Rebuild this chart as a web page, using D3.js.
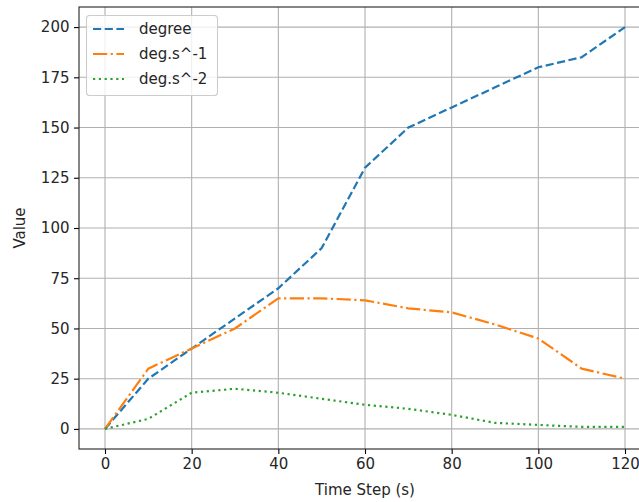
<!DOCTYPE html>
<html>
<head>
<meta charset="utf-8">
<script src="https://cdn.jsdelivr.net/npm/d3@7"></script>
<style>
  body { margin: 0; background: #fff; }
  svg { display: block; font-family: "DejaVu Sans", sans-serif; }
</style>
</head>
<body>
<svg width="639" height="502"></svg>
<script>
var width = 639;
var height = 502;

// data
var timeSteps = [0, 10, 20, 30, 40, 50, 60, 70, 80, 90, 100, 110, 120];
var degree = [0, 25, 40, 55, 70, 90, 130, 150, 160, 170, 180, 185, 200];
var degPerS = [0, 30, 40, 50, 65, 65, 64, 60, 58, 52, 45, 30, 25];
var degPerS2 = [0, 5, 18, 20, 18, 15, 12, 10, 7, 3, 2, 1, 1];
var xTicks = [0, 20, 40, 60, 80, 100, 120];
var yTicks = [0, 25, 50, 75, 100, 125, 150, 175, 200];

var series = [
  { name: "degree", values: degree, color: "#1f77b4", dash: "8.2,3.5" },
  { name: "deg.s^-1", values: degPerS, color: "#ff7f0e", dash: "14.2,3.5,2.2,3.5" },
  { name: "deg.s^-2", values: degPerS2, color: "#2ca02c", dash: "2.2,3.6" }
];

var fontSize = 15;
var lineW = 2.2;

// axes box (right edge falls outside the picture, like the reference)
var box = { left: 79, top: 7, right: 651, bottom: 449 };

var svg = d3.select("svg");

var xScale = d3.scaleLinear().domain([-6, 126]).range([box.left, box.right]);
var yScale = d3.scaleLinear().domain([-10, 210]).range([box.bottom, box.top]);

// grid
var grid = svg.append("g").attr("stroke", "#b0b0b0").attr("stroke-width", 1.1);
grid.selectAll(".gx")
  .data(xTicks)
  .enter()
  .append("line")
  .attr("x1", (d) => xScale(d))
  .attr("x2", (d) => xScale(d))
  .attr("y1", box.top)
  .attr("y2", box.bottom);
grid.selectAll(".gy")
  .data(yTicks)
  .enter()
  .append("line")
  .attr("x1", box.left)
  .attr("x2", box.right)
  .attr("y1", (d) => yScale(d))
  .attr("y2", (d) => yScale(d));

// lines
var line = d3
  .line()
  .x((d, i) => xScale(timeSteps[i]))
  .y((d) => yScale(d));

svg.selectAll(".series")
  .data(series)
  .enter()
  .append("path")
  .attr("d", (d) => line(d.values))
  .attr("fill", "none")
  .attr("stroke", (d) => d.color)
  .attr("stroke-width", lineW)
  .attr("stroke-dasharray", (d) => d.dash);

// axes
var xAxis = d3.axisBottom(xScale).tickValues(xTicks).tickSize(5).tickPadding(4);
var gx = svg.append("g")
  .attr("transform", `translate(0, ${box.bottom})`)
  .call(xAxis);

var yAxis = d3.axisLeft(yScale).tickValues(yTicks).tickSize(5).tickPadding(4.5);
var gy = svg.append("g")
  .attr("transform", `translate(${box.left}, 0)`)
  .call(yAxis);

[gx, gy].forEach((g) => {
  g.select(".domain").remove();
  g.selectAll(".tick line").attr("stroke", "#000").attr("stroke-width", 1.1);
  g.selectAll(".tick text")
    .attr("fill", "#262626")
    .style("font-size", fontSize + "px")
    .style("font-family", "DejaVu Sans");
});

// spines
svg.append("rect")
  .attr("x", box.left)
  .attr("y", box.top)
  .attr("width", box.right - box.left)
  .attr("height", box.bottom - box.top)
  .attr("fill", "none")
  .attr("stroke", "#222")
  .attr("stroke-width", 1.1);

// axis titles
svg.append("text")
  .attr("x", (box.left + box.right) / 2)
  .attr("y", 495)
  .attr("text-anchor", "middle")
  .attr("font-size", fontSize)
  .attr("fill", "#262626")
  .text("Time Step (s)");

svg.append("text")
  .attr("transform", `translate(25, ${(box.top + box.bottom) / 2}) rotate(-90)`)
  .attr("text-anchor", "middle")
  .attr("font-size", fontSize)
  .attr("fill", "#262626")
  .text("Value");

// legend
var legend = svg.append("g");
legend.append("rect")
  .attr("x", 86.5)
  .attr("y", 15.5)
  .attr("width", 131)
  .attr("height", 80)
  .attr("rx", 3)
  .attr("fill", "rgba(255,255,255,0.8)")
  .attr("stroke", "#cccccc")
  .attr("stroke-width", 1.1);

var entries = legend.selectAll(".entry")
  .data(series)
  .enter()
  .append("g")
  .attr("transform", (d, i) => `translate(0, ${29 + i * 25})`);

entries.append("line")
  .attr("x1", 93)
  .attr("x2", 124)
  .attr("y1", 0)
  .attr("y2", 0)
  .attr("stroke", (d) => d.color)
  .attr("stroke-width", lineW)
  .attr("stroke-dasharray", (d) => d.dash);

entries.append("text")
  .attr("x", 139)
  .attr("y", 5)
  .attr("font-size", fontSize)
  .attr("fill", "#262626")
  .text((d) => d.name);
</script>
</body>
</html>
